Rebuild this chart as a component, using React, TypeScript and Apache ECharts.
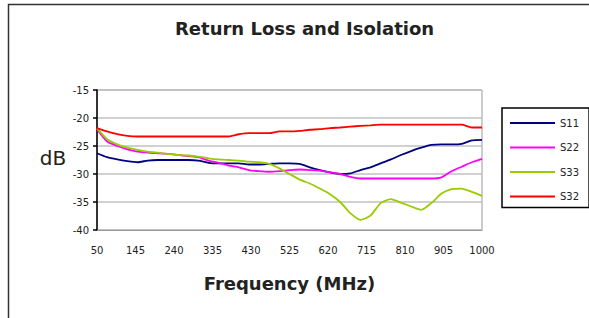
import React, { useEffect, useRef } from "react";
import * as echarts from "echarts";

const freqs = [50, 75, 100, 125, 150, 175, 200, 225, 250, 275, 300, 325, 350, 375, 400, 425, 450, 475, 500, 525, 550, 575, 600, 625, 650, 675, 700, 725, 750, 775, 800, 825, 850, 875, 900, 925, 950, 975, 1000];

const s11 = [-26.3, -27.0, -27.4, -27.7, -27.9, -27.6, -27.5, -27.5, -27.5, -27.5, -27.6, -28.0, -28.1, -28.1, -28.1, -28.3, -28.3, -28.2, -28.1, -28.1, -28.2, -28.8, -29.3, -29.7, -30.0, -29.9, -29.3, -28.8, -28.1, -27.4, -26.6, -25.9, -25.3, -24.8, -24.7, -24.7, -24.6, -24.0, -23.9];
const s22 = [-22.0, -24.2, -25.0, -25.6, -26.0, -26.2, -26.3, -26.4, -26.6, -26.8, -27.0, -27.6, -28.0, -28.5, -28.8, -29.3, -29.5, -29.6, -29.5, -29.3, -29.2, -29.3, -29.4, -29.7, -30.0, -30.5, -30.8, -30.8, -30.8, -30.8, -30.8, -30.8, -30.8, -30.8, -30.6, -29.5, -28.7, -27.9, -27.3];
const s33 = [-21.8, -23.8, -24.7, -25.3, -25.7, -26.0, -26.2, -26.4, -26.6, -26.7, -26.9, -27.2, -27.4, -27.5, -27.6, -27.8, -27.9, -28.2, -29.0, -30.0, -31.0, -31.7, -32.6, -33.6, -35.0, -37.0, -38.2, -37.4, -35.2, -34.5, -35.1, -35.8, -36.4, -35.2, -33.5, -32.7, -32.6, -33.2, -33.9];
const s32 = [-21.8, -22.4, -22.9, -23.2, -23.3, -23.3, -23.3, -23.3, -23.3, -23.3, -23.3, -23.3, -23.3, -23.3, -22.9, -22.7, -22.7, -22.7, -22.4, -22.4, -22.3, -22.1, -22.0, -21.8, -21.7, -21.55, -21.4, -21.3, -21.2, -21.2, -21.2, -21.2, -21.2, -21.2, -21.2, -21.2, -21.2, -21.7, -21.7];

const seriesNames = ["S11", "S22", "S33", "S32"];
const seriesColors = ["#000080", "#ff00ff", "#99cc00", "#ff0000"];
const seriesValues = [s11, s22, s33, s32];

const X_START = 50;
const X_END = 1000;
const X_STEP = 95;
const Y_MIN = -40;
const Y_MAX = -15;
const Y_STEP = 5;

const FONT = "DejaVu Sans";

export default function App() {
  const ref = useRef<HTMLDivElement>(null);
  useEffect(() => {
    const chart = echarts.init(ref.current!, null, { renderer: "svg" });
    chart.setOption({
      animation: false,
      backgroundColor: "#ffffff",
      title: {
        text: "Return Loss and Isolation",
        left: 175,
        top: 19,
        padding: 0,
        textStyle: { fontFamily: FONT, fontSize: 18, fontWeight: "bold", color: "#222" },
      },
      graphic: [
        {
          type: "rect",
          silent: true,
          z: -1,
          shape: { x: 8.5, y: 4.5, width: 700, height: 400 },
          style: { fill: "none", stroke: "#333", lineWidth: 1.5 },
        },
        {
          type: "text",
          x: 53,
          y: 158,
          style: {
            text: "dB",
            fontFamily: FONT,
            fontSize: 20,
            fill: "#222",
            textAlign: "center",
            textVerticalAlign: "middle",
          },
        },
      ],
      legend: {
        orient: "vertical",
        left: 502,
        top: 108,
        icon: "rect",
        itemWidth: 45,
        itemHeight: 2,
        itemGap: 10.5,
        itemTextGap: 4,
        data: seriesNames,
        borderColor: "#000",
        borderWidth: 1.5,
        padding: [8, 10, 4, 8],
        textStyle: { fontFamily: FONT, fontSize: 10, color: "#222", lineHeight: 14 },
      },
      grid: {
        left: 97,
        top: 90,
        width: 385,
        height: 140,
        show: true,
        borderColor: "#999",
        borderWidth: 1,
        containLabel: false,
      },
      xAxis: {
        type: "value",
        min: 0,
        max: X_END - X_START,
        interval: X_STEP,
        name: "Frequency (MHz)",
        nameLocation: "middle",
        nameGap: 44,
        nameTextStyle: { fontFamily: FONT, fontSize: 18, fontWeight: "bold", color: "#222" },
        axisLine: { show: true, lineStyle: { color: "#999", width: 1 } },
        axisTick: { show: false },
        splitLine: { show: false },
        axisLabel: {
          margin: 15,
          fontFamily: FONT,
          fontSize: 10,
          color: "#222",
          formatter: (v: number) => String(v + X_START),
        },
      },
      yAxis: {
        type: "value",
        min: Y_MIN,
        max: Y_MAX,
        interval: Y_STEP,
        axisLine: { show: true, lineStyle: { color: "#000", width: 1.5 } },
        axisTick: { show: true, length: 4, lineStyle: { color: "#000", width: 1.5 } },
        splitLine: { show: true, lineStyle: { color: "#c0c0c0", width: 1.5 } },
        axisLabel: { margin: 8, fontFamily: FONT, fontSize: 10, color: "#222" },
      },
      series: seriesNames.map((name, k) => ({
        name,
        type: "line",
        showSymbol: false,
        symbol: "none",
        smooth: 0.2,
        color: seriesColors[k],
        lineStyle: { color: seriesColors[k], width: 1.8 },
        data: freqs.map((f, i) => [f - X_START, seriesValues[k][i]]),
      })),
    });
    return () => chart.dispose();
  }, []);
  return (
    <div
      ref={ref}
      style={{ position: "fixed", left: 0, top: 0, width: 589, height: 318, background: "#fff" }}
    />
  );
}
